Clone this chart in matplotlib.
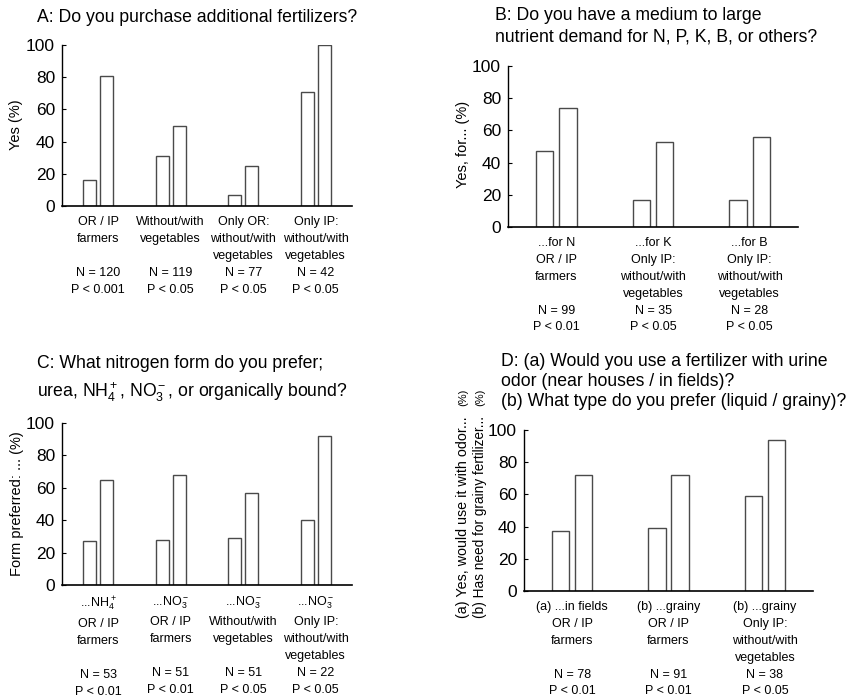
import matplotlib
matplotlib.use('Agg')
import matplotlib.pyplot as plt
import numpy as np

plt.rcParams['font.family'] = ['Liberation Sans', 'DejaVu Sans']
plt.rcParams['mathtext.fontset'] = 'custom'
plt.rcParams['mathtext.rm'] = 'Liberation Sans'
plt.rcParams['mathtext.it'] = 'Liberation Sans:italic'
plt.rcParams['mathtext.bf'] = 'Liberation Sans:bold'

# A: purchase of additional fertilizers
a_without = [16, 31, 7, 71]
a_with = [81, 50, 25, 100]
a_labels = ["OR / IP\nfarmers\n\nN = 120\nP < 0.001",
            "Without/with\nvegetables\n\nN = 119\nP < 0.05",
            "Only OR:\nwithout/with\nvegetables\nN = 77\nP < 0.05",
            "Only IP:\nwithout/with\nvegetables\nN = 42\nP < 0.05"]

# B: medium to large nutrient demand
b_without = [47, 17, 17]
b_with = [74, 53, 56]
b_labels = ["...for N\nOR / IP\nfarmers\n\nN = 99\nP < 0.01",
            "...for K\nOnly IP:\nwithout/with\nvegetables\nN = 35\nP < 0.05",
            "...for B\nOnly IP:\nwithout/with\nvegetables\nN = 28\nP < 0.05"]

# C: preferred nitrogen form
c_without = [27, 28, 29, 40]
c_with = [65, 68, 57, 92]
c_labels = ["...NH$_4^+$\nOR / IP\nfarmers\n\nN = 53\nP < 0.01",
            "...NO$_3^-$\nOR / IP\nfarmers\n\nN = 51\nP < 0.01",
            "...NO$_3^-$\nWithout/with\nvegetables\n\nN = 51\nP < 0.05",
            "...NO$_3^-$\nOnly IP:\nwithout/with\nvegetables\nN = 22\nP < 0.05"]

# D: urine odour / grainy fertilizer
d_without = [37, 39, 59]
d_with = [72, 72, 94]
d_labels = ["(a) ...in fields\nOR / IP\nfarmers\n\nN = 78\nP < 0.01",
            "(b) ...grainy\nOR / IP\nfarmers\n\nN = 91\nP < 0.01",
            "(b) ...grainy\nOnly IP:\nwithout/with\nvegetables\nN = 38\nP < 0.05"]

W, H = 847, 698
fig = plt.figure(figsize=(W / 100, H / 100), dpi=100)


def fx(px):
    return px / W


def fy(py):
    return 1 - py / H


def panel(left, right, y0, y100, v1, v2, labels):
    ax = fig.add_axes([left / W, (H - y0) / H, (right - left) / W, (y0 - y100) / H])
    x = np.arange(len(v1))
    ax.bar(x - 0.12, v1, 0.18, facecolor='white', edgecolor='#4a4a4a', linewidth=1.0)
    ax.bar(x + 0.12, v2, 0.18, facecolor='white', edgecolor='#4a4a4a', linewidth=1.0)
    ax.set_xlim(-0.5, len(v1) - 0.5)
    ax.set_ylim(0, 100)
    ax.set_yticks([0, 20, 40, 60, 80, 100])
    ax.set_xticks(x)
    ax.set_xticklabels(labels, fontsize=9, linespacing=1.55)
    ax.tick_params(axis='x', length=0, pad=7)
    ax.tick_params(axis='y', direction='in', length=3, width=0.8, labelsize=12.5, pad=5)
    ax.spines['top'].set_visible(False)
    ax.spines['right'].set_visible(False)
    ax.spines['left'].set_linewidth(1.0)
    ax.spines['bottom'].set_linewidth(1.2)
    return ax


axA = panel(62, 352, 206, 45, a_without, a_with, a_labels)
axB = panel(508, 798, 227, 66, b_without, b_with, b_labels)
axC = panel(62, 352, 585, 423, c_without, c_with, c_labels)
axD = panel(524, 813, 591, 430, d_without, d_with, d_labels)

# y labels
fig.text(fx(16), fy(125), 'Yes (%)', rotation=90, ha='center', va='center', fontsize=10.5)
fig.text(fx(463), fy(144), 'Yes, for... (%)', rotation=90, ha='center', va='center', fontsize=10.5)
fig.text(fx(17), fy(504), 'Form preferred: ... (%)', rotation=90, ha='center', va='center', fontsize=10.5)
fig.text(fx(463), fy(618), '(a) Yes, would use it with odor...', rotation=90,
         ha='center', va='bottom', fontsize=10.3)
fig.text(fx(480), fy(618), '(b) Has need for grainy fertilizer...', rotation=90,
         ha='center', va='bottom', fontsize=9.8)
fig.text(fx(463), fy(389), '(%)', rotation=90, ha='center', va='top', fontsize=8)
fig.text(fx(480), fy(389), '(%)', rotation=90, ha='center', va='top', fontsize=8)

tfs = 12.7
fig.text(fx(37), fy(17), 'A: Do you purchase additional fertilizers?', fontsize=tfs, va='center')
fig.text(fx(495), fy(16), 'B: Do you have a medium to large', fontsize=tfs, va='center')
fig.text(fx(495), fy(37), 'nutrient demand for N, P, K, B, or others?', fontsize=tfs, va='center')
fig.text(fx(37), fy(363), 'C: What nitrogen form do you prefer;', fontsize=tfs, va='center')
fig.text(fx(37), fy(392), 'urea, NH$_4^+$, NO$_3^-$, or organically bound?', fontsize=tfs, va='center')
fig.text(fx(501), fy(362), 'D: (a) Would you use a fertilizer with urine', fontsize=tfs, va='center')
fig.text(fx(501), fy(382), 'odor (near houses / in fields)?', fontsize=tfs, va='center')
fig.text(fx(501), fy(402), '(b) What type do you prefer (liquid / grainy)?', fontsize=tfs, va='center')

fig.savefig('out.png', dpi=100)
